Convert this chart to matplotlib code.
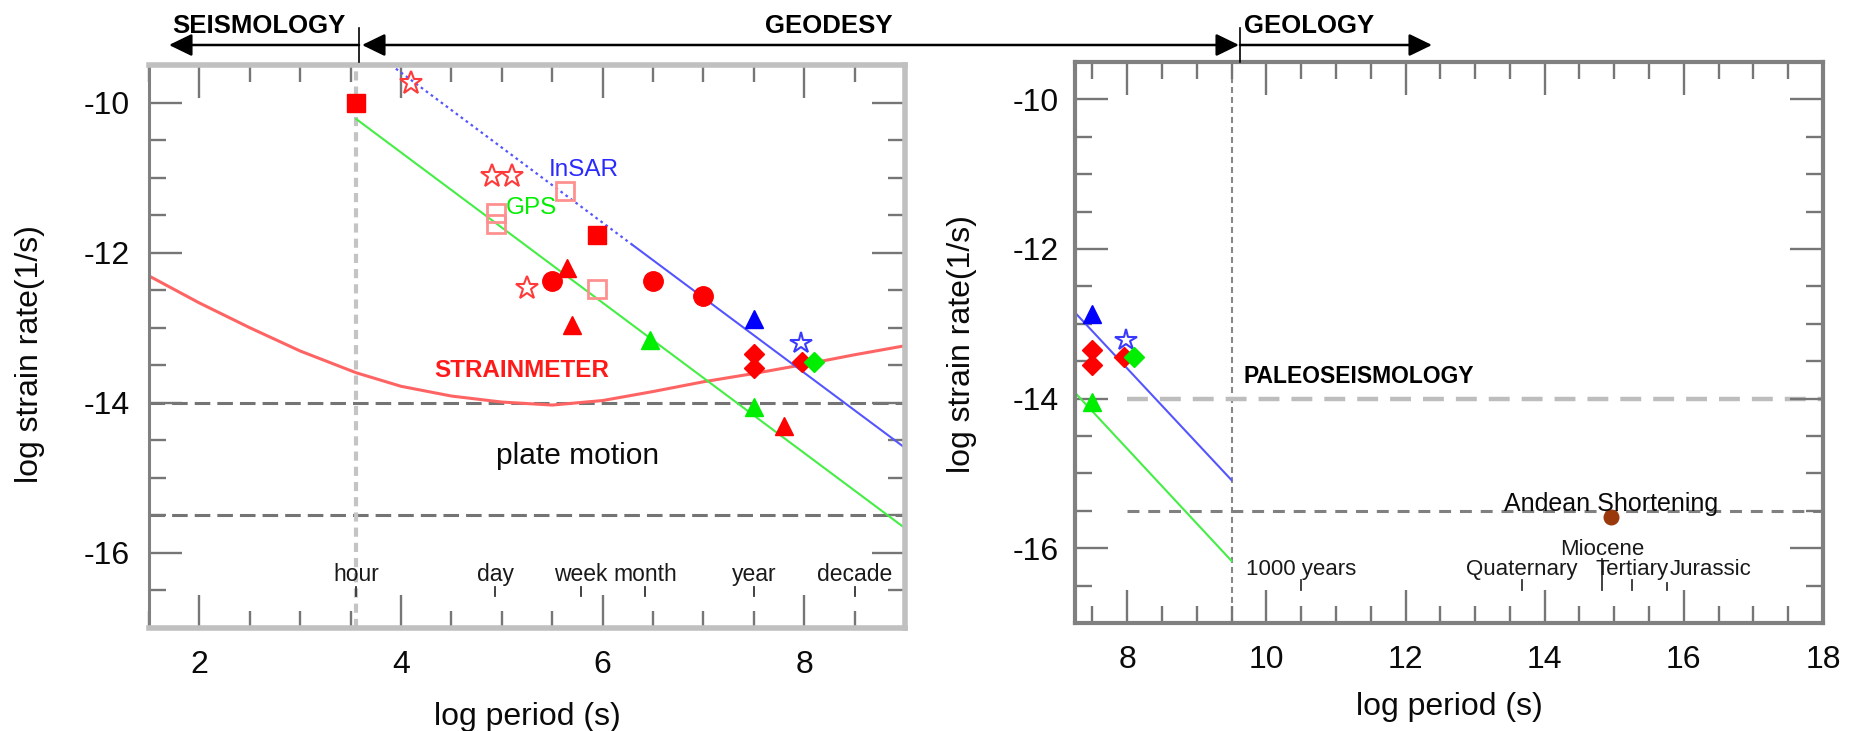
import matplotlib
matplotlib.use('Agg')
import matplotlib.pyplot as plt
from matplotlib.patches import FancyArrowPatch
from matplotlib.lines import Line2D
from matplotlib.ticker import MultipleLocator

plt.rcParams['font.family'] = ['Liberation Sans', 'DejaVu Sans']
plt.rcParams['axes.unicode_minus'] = False

# ---------------- data ----------------
left_xlim = (1.5, 9.0)
right_xlim = (7.25, 18.0)
ylims = (-17.0, -9.5)

# strainmeter noise curve
strain_x = [1.5, 2.0, 2.5, 3.0, 3.556, 4.0, 4.5, 5.0, 5.5, 6.0, 6.5, 7.0, 7.5, 8.0, 8.5, 9.0]
strain_y = [-12.31, -12.67, -13.0, -13.31, -13.6, -13.78, -13.91, -13.99, -14.03, -13.97,
            -13.85, -13.72, -13.61, -13.49, -13.36, -13.24]

# GPS and InSAR detection thresholds
gps_left_x = [3.556, 9.0]
gps_left_y = [-10.22, -15.67]
insar_dot_x = [3.9, 6.3]
insar_dot_y = [-9.5, -11.9]
insar_solid_x = [6.3, 9.0]
insar_solid_y = [-11.9, -14.6]
gps_right_x = [7.25, 9.5]
gps_right_y = [-13.92, -16.17]
insar_right_x = [7.25, 9.5]
insar_right_y = [-12.85, -15.09]

# reference lines
plate_motion_levels = [-14.0, -15.5]
hour_x = 3.556
geology_x = 9.5
paleo_level = -14.0
andean_level = -15.5
right_lines_start = 8.0

# period labels
period_names_left = ['hour', 'day', 'week', 'month', 'year', 'decade']
period_pos_left = [3.556, 4.936, 5.782, 6.42, 7.5, 8.5]
period_names_right = ['1000 years', 'Quaternary', 'Miocene', 'Tertiary', 'Jurassic']
period_pos_right = [10.5, 13.67, 14.83, 15.26, 15.76]

# measurements, left panel
red_sq_x = [3.556, 5.94]
red_sq_y = [-10.0, -11.77]
pink_sq_x = [4.94, 4.94, 5.63, 5.94]
pink_sq_y = [-11.47, -11.62, -11.18, -12.48]
red_star_x = [4.1, 4.9, 5.1, 5.25]
red_star_y = [-9.74, -10.98, -10.98, -12.47]
red_circ_x = [5.5, 6.5, 7.0]
red_circ_y = [-12.38, -12.38, -12.58]
red_tri_x = [5.65, 5.7, 7.8]
red_tri_y = [-12.2, -12.96, -14.31]
green_tri_x = [6.47, 7.5]
green_tri_y = [-13.16, -14.05]
blue_tri_x = [7.5]
blue_tri_y = [-12.88]
red_dia_x = [7.5, 7.5, 7.98]
red_dia_y = [-13.35, -13.54, -13.45]
green_dia_x = [8.1]
green_dia_y = [-13.45]
blue_star_x = [7.97]
blue_star_y = [-13.21]

# measurements, right panel
r_blue_tri_x = [7.5]
r_blue_tri_y = [-12.87]
r_blue_star_x = [7.98]
r_blue_star_y = [-13.22]
r_red_dia_x = [7.5, 7.5, 7.96]
r_red_dia_y = [-13.35, -13.55, -13.44]
r_green_dia_x = [8.1]
r_green_dia_y = [-13.44]
r_green_tri_x = [7.5]
r_green_tri_y = [-14.04]
andean_x = [14.95]
andean_y = [-15.58]

# ---------------- figure ----------------
W, H = 1859, 731
fig = plt.figure(figsize=(W / 100, H / 100), dpi=100)

axL = fig.add_axes([149 / W, 1 - 628 / H, 756 / W, 563 / H])
axR = fig.add_axes([1075 / W, 1 - 623 / H, 748 / W, 561 / H])

TICK_C = '#767676'
for ax, xl, ypad in ((axL, left_xlim, 14), (axR, right_xlim, 11.5)):
    ax.set_xlim(*xl)
    ax.set_ylim(*ylims)
    ax.xaxis.set_major_locator(MultipleLocator(2))
    ax.xaxis.set_minor_locator(MultipleLocator(0.5))
    ax.yaxis.set_major_locator(MultipleLocator(2))
    ax.yaxis.set_minor_locator(MultipleLocator(0.5))
    ax.tick_params(which='both', direction='in', top=True, right=True, color=TICK_C)
    ax.tick_params(which='major', length=24, width=1.7, labelsize=23, labelcolor='#0a0a0a')
    ax.tick_params(which='minor', length=12, width=1.7)
    ax.tick_params(axis='x', which='major', pad=16)
    ax.tick_params(axis='y', which='major', pad=ypad)
    ax.set_xlabel('log period (s)', fontsize=23, color='#0a0a0a')

axL.set_ylabel('log strain rate(1/s)', fontsize=23, color='#0a0a0a')
axR.set_ylabel('log strain rate(1/s)', fontsize=23, color='#0a0a0a')
axL.xaxis.set_label_coords(0.5, -0.131)
axR.xaxis.set_label_coords(0.5, -0.123)
axL.yaxis.set_label_coords(-0.138, 0.486)
axR.yaxis.set_label_coords(-0.131, 0.497)

axL.spines['left'].set_color('#808080')
axL.spines['left'].set_linewidth(2.2)
for s in ('top', 'right', 'bottom'):
    axL.spines[s].set_color('#c0c0c0')
    axL.spines[s].set_linewidth(4)
for s in axR.spines.values():
    s.set_color('#808080')
    s.set_linewidth(3)

# ---- left panel ----
for lv in plate_motion_levels:
    axL.axhline(lv, color='#747474', lw=2.2, dashes=(5.1, 2.3), zorder=1)
axL.axvline(hour_x, color='#c4c4c4', lw=3, dashes=(2.2, 1.45), zorder=1)

axL.plot(strain_x, strain_y, color='#ff6464', lw=2.2, zorder=2, solid_joinstyle='round')
axL.plot(gps_left_x, gps_left_y, color='#44ee44', lw=1.5, zorder=2)
axL.plot(insar_dot_x, insar_dot_y, color='#5555ff', lw=1.6, dashes=(1.2, 1.6), zorder=2)
axL.plot(insar_solid_x, insar_solid_y, color='#5555ff', lw=1.5, zorder=2)

mk = dict(linestyle='none', zorder=3)
axL.plot(red_sq_x, red_sq_y, marker='s', ms=13.5, color='red', mec='red', **mk)
axL.plot(pink_sq_x, pink_sq_y, marker='s', ms=13.5, mfc='none', mec='#ff9090', mew=2, **mk)
axL.plot(red_star_x, red_star_y, marker='*', ms=17, mfc='none', mec='#ff3a3a', mew=1.5, **mk)
axL.plot(red_circ_x, red_circ_y, marker='o', ms=14, color='red', **mk)
axL.plot(red_tri_x, red_tri_y, marker='^', ms=13, color='red', **mk)
axL.plot(green_tri_x, green_tri_y, marker='^', ms=13, color='#00ee00', **mk)
axL.plot(blue_tri_x, blue_tri_y, marker='^', ms=13, color='#0000ff', **mk)
axL.plot(red_dia_x, red_dia_y, marker='D', ms=10.5, color='red', **mk)
axL.plot(green_dia_x, green_dia_y, marker='D', ms=10.5, color='#00ee00', **mk)
axL.plot(blue_star_x, blue_star_y, marker='*', ms=16, mfc='none', mec='#3a3aff', mew=1.5, **mk)

axL.text(5.47, -10.98, 'InSAR', color='#2a2aff', fontsize=17.5, va='baseline', ha='left')
axL.text(5.04, -11.49, 'GPS', color='#00ee00', fontsize=17.5, va='baseline', ha='left')
axL.text(4.33, -13.65, 'STRAINMETER', color='#ff1a1a', fontsize=17.5, fontweight='bold',
         va='baseline', ha='left')
axL.text(4.94, -14.81, 'plate motion', color='#0a0a0a', fontsize=21.5, va='baseline', ha='left')

for name, px in zip(period_names_left, period_pos_left):
    axL.text(px, -16.38, name, fontsize=16.5, ha='center', va='baseline', color='#1a1a1a')
    axL.plot([px, px], [-16.45, -16.58], color='#333333', lw=1.3, zorder=2)

# ---- right panel ----
axR.axvline(geology_x, color='#888888', lw=1.5, dashes=(2.9, 1.9), zorder=1)
axR.plot([right_lines_start, right_xlim[1]], [paleo_level, paleo_level], color='#bdbdbd',
         lw=3.2, dashes=(4.7, 2.7), zorder=1)
axR.plot([right_lines_start, right_xlim[1]], [andean_level, andean_level], color='#808080',
         lw=2.2, dashes=(3.9, 2.9), zorder=1)

axR.plot(insar_right_x, insar_right_y, color='#5555ff', lw=1.5, zorder=2)
axR.plot(gps_right_x, gps_right_y, color='#44ee44', lw=1.5, zorder=2)

axR.plot(r_blue_tri_x, r_blue_tri_y, marker='^', ms=13, color='#0000ff', **mk)
axR.plot(r_blue_star_x, r_blue_star_y, marker='*', ms=16, mfc='none', mec='#3a3aff', mew=1.5, **mk)
axR.plot(r_red_dia_x, r_red_dia_y, marker='D', ms=10.5, color='red', **mk)
axR.plot(r_green_dia_x, r_green_dia_y, marker='D', ms=10.5, color='#00ee00', **mk)
axR.plot(r_green_tri_x, r_green_tri_y, marker='^', ms=13, color='#00ee00', **mk)
axR.plot(andean_x, andean_y, marker='o', ms=10.5, color='#9a3a0c', **mk)

axR.text(9.67, -13.79, 'PALEOSEISMOLOGY', fontsize=16.5, fontweight='bold', va='baseline', ha='left')
axR.text(14.95, -15.5, 'Andean Shortening', fontsize=18, va='baseline', ha='center', color='#0a0a0a')

right_label_y = [-16.36, -16.36, -16.09, -16.36, -16.36]
right_label_ha = ['center', 'center', 'center', 'center', 'left']
right_label_dx = [0, 0, 0, 0, 0.03]
right_tick_top = [-16.42, -16.42, -16.14, -16.42, -16.46]
for name, px, ly, ha, dx, tt in zip(period_names_right, period_pos_right, right_label_y,
                                    right_label_ha, right_label_dx, right_tick_top):
    axR.text(px + dx, ly, name, fontsize=16, ha=ha, va='baseline', color='#1a1a1a')
    axR.plot([px, px], [tt, -16.56], color='#333333', lw=1.3, zorder=2)

# ---- top domain arrows ----
def fx(p):
    return p / W

def fy(p):
    return 1 - p / H

ya = fy(45)
arrows = [((359, 169), '-|>'), ((362, 1239), '<|-|>'), ((1240, 1432), '-|>')]
for (xa, xb), style in arrows:
    fig.add_artist(FancyArrowPatch((fx(xa), ya), (fx(xb), ya), transform=fig.transFigure,
                                   arrowstyle=f'{style},head_length=14,head_width=6.8',
                                   mutation_scale=1, lw=1.8, color='black',
                                   shrinkA=0, shrinkB=0))
for xd in (359, 1240):
    fig.add_artist(Line2D([fx(xd), fx(xd)], [fy(28), fy(62)], transform=fig.transFigure,
                          color='black', lw=1.2))

for label, xl in (('SEISMOLOGY', 172), ('GEODESY', 765), ('GEOLOGY', 1244)):
    fig.text(fx(xl), fy(33), label, fontsize=18.5, fontweight='bold', ha='left', va='baseline')

fig.savefig('out.png', dpi=100)
